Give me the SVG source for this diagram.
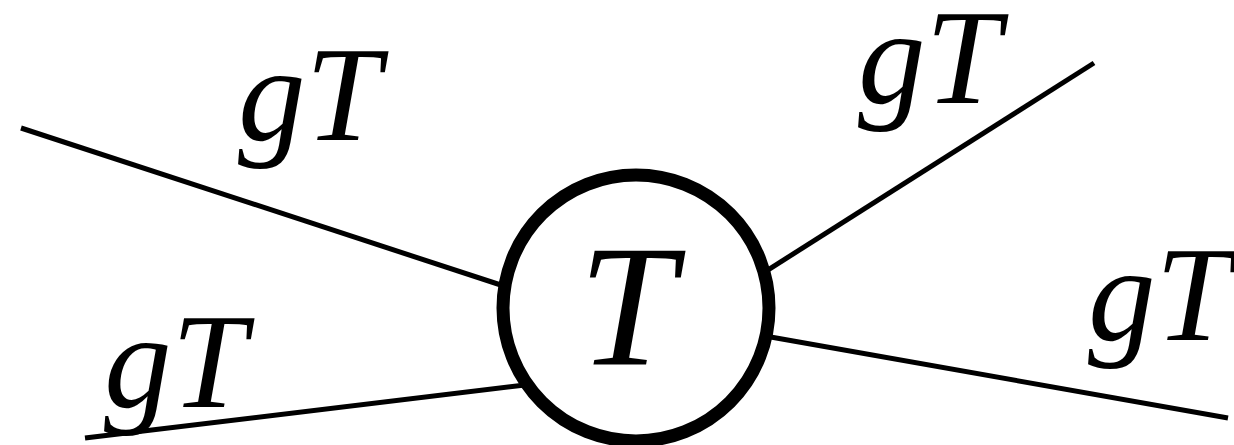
<svg xmlns="http://www.w3.org/2000/svg" width="1234" height="445" viewBox="0 0 1234 445">
<style>
.edge{stroke:#000;stroke-width:5;fill:none}
.lbl{font-family:"Liberation Serif","Times New Roman",serif;font-style:italic;font-size:135px;fill:#000}
.big{font-family:"Liberation Serif","Times New Roman",serif;font-style:italic;font-size:174px;fill:#000}
</style>
<rect width="1234" height="445" fill="#fff"/>
<g id="connectors">
<line class="edge" x1="21" y1="128" x2="510" y2="288"/>
<line class="edge" x1="85" y1="438" x2="525" y2="385"/>
<line class="edge" x1="1094" y1="63" x2="760" y2="275"/>
<line class="edge" x1="1228" y1="418" x2="765" y2="336"/>
</g>
<g id="node-T">
<circle cx="636" cy="308" r="133" fill="#fff" stroke="#000" stroke-width="13"/>
<text class="big" x="627" y="365" text-anchor="middle">T</text>
</g>
<g id="label-tl"><text class="lbl" x="238" y="140">gT</text></g>
<g id="label-bl"><text class="lbl" x="104" y="407">gT</text></g>
<g id="label-tr"><text class="lbl" x="858" y="103">gT</text></g>
<g id="label-r"><text class="lbl" x="1088" y="340">gT</text></g>
</svg>
